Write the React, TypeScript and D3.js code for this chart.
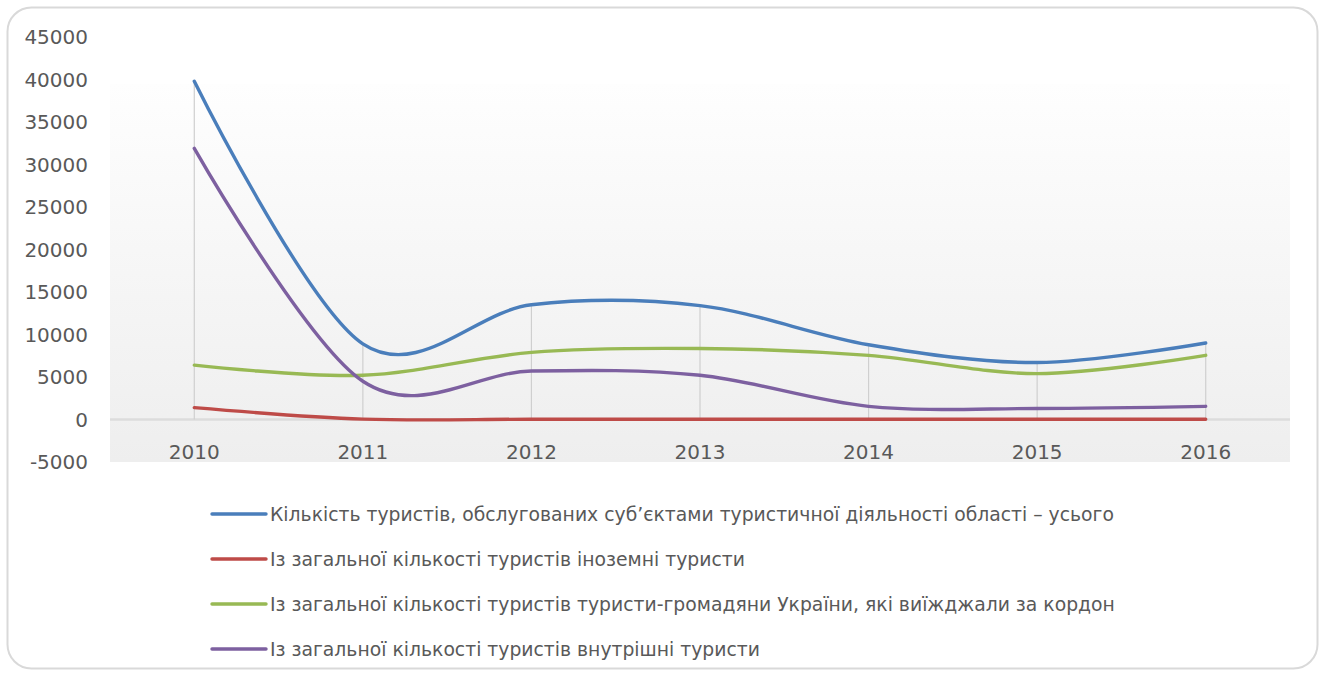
import React from "react";
import * as d3 from "d3";

const years = ["2010", "2011", "2012", "2013", "2014", "2015", "2016"];
const totalTourists = [39800, 8900, 13500, 13400, 8800, 6700, 9000];
const foreignTourists = [1400, 50, 30, 30, 30, 30, 30];
const outboundTourists = [6400, 5200, 7900, 8350, 7550, 5400, 7550];
const domesticTourists = [31900, 4500, 5700, 5200, 1550, 1300, 1550];
const yTicks = [-5000, 0, 5000, 10000, 15000, 20000, 25000, 30000, 35000, 40000, 45000];
const seriesNames = [
  "Кількість туристів, обслугованих суб’єктами туристичної діяльності області – усього",
  "Із загальної кількості туристів іноземні туристи",
  "Із загальної кількості туристів туристи-громадяни України, які виїжджали за кордон",
  "Із загальної кількості туристів внутрішні туристи",
];
const seriesColors = ["#4a7ebb", "#be4b48", "#98b954", "#7d60a0"];

const W = 1321;
const H = 674;
const plotLeft = 110;
const plotRight = 1290;
const font = "'DejaVu Sans', sans-serif";

export default function App() {
  const x = d3.scaleBand<string>().domain(years).range([plotLeft, plotRight]);
  const y = d3.scaleLinear().domain([-5000, 45000]).range([462, 37]);
  const cx = (i: number) => (x(years[i]) as number) + x.bandwidth() / 2;
  const allSeries = [totalTourists, foreignTourists, outboundTourists, domesticTourists];
  const line = d3
    .line<number>()
    .x((_, i) => cx(i))
    .y((d) => y(d))
    .curve(d3.curveCardinal.tension(0));

  return (
    <svg
      width={W}
      height={H}
      style={{ position: "absolute", left: 0, top: 0, background: "#fff" }}
    >
      <defs>
        <linearGradient id="plotBg" x1="0" y1="0" x2="0" y2="1">
          <stop offset="0" stopColor="#fefefe" />
          <stop offset="1" stopColor="#eeeeee" />
        </linearGradient>
      </defs>
      <rect x={7.5} y={7.5} width={1310} height={661} rx={24} ry={24} fill="#fff" stroke="#d9d9d9" strokeWidth={2} />
      <rect x={plotLeft} y={y(39500)} width={plotRight - plotLeft} height={y(-5000) - y(39500)} fill="url(#plotBg)" />
      {/* zero line */}
      <line x1={plotLeft} x2={plotRight} y1={y(0)} y2={y(0)} stroke="#dcdcdc" strokeWidth={2.5} />
      {/* drop lines */}
      {years.map((yr, i) => {
        const mx = d3.max(allSeries, (s) => s[i]) as number;
        return <line key={yr} x1={cx(i)} x2={cx(i)} y1={y(mx)} y2={y(0)} stroke="#cfcfcf" strokeWidth={1.2} />;
      })}
      {/* y ticks */}
      {yTicks.map((t) => (
        <text key={t} x={88} y={y(t)} textAnchor="end" dominantBaseline="central" fontFamily={font} fontSize={20} fill="#595959">
          {t}
        </text>
      ))}
      {/* x ticks */}
      {years.map((yr, i) => (
        <text key={yr} x={cx(i)} y={452} textAnchor="middle" dominantBaseline="central" fontFamily={font} fontSize={20} fill="#595959">
          {yr}
        </text>
      ))}
      {/* series */}
      {allSeries.map((s, k) => (
        <path key={k} d={line(s) as string} fill="none" stroke={seriesColors[k]} strokeWidth={3.4} strokeLinecap="round" />
      ))}
      {/* legend */}
      {seriesNames.map((n, k) => {
        const ly = 514 + k * 45;
        return (
          <g key={k}>
            <line x1={212} x2={266} y1={ly} y2={ly} stroke={seriesColors[k]} strokeWidth={3.4} strokeLinecap="round" />
            <text x={270} y={ly} dominantBaseline="central" fontFamily={font} fontSize={18.8} fill="#595959">
              {n}
            </text>
          </g>
        );
      })}
    </svg>
  );
}
